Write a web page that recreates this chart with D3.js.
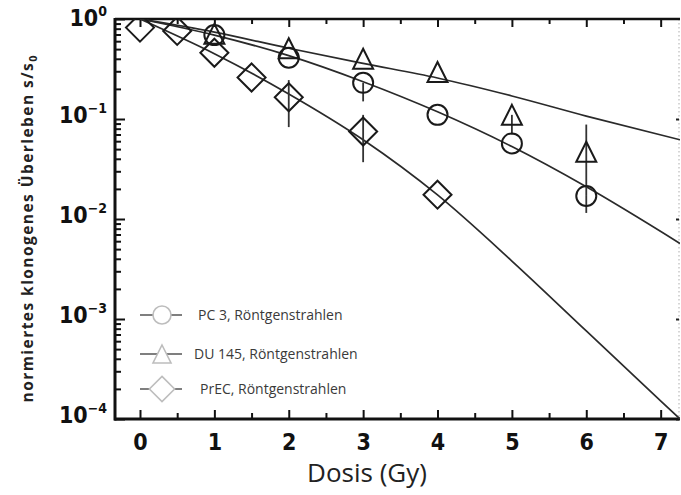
<!DOCTYPE html>
<html>
<head>
<meta charset="utf-8">
<script src="https://cdn.jsdelivr.net/npm/d3@7"></script>
<style>
  body { margin: 0; background: #fff; }
  svg { display: block; }
</style>
</head>
<body>
<svg id="chart"></svg>
<script>
var width = 681, height = 495;

// measured points (dose in Gy, normalised surviving fraction)
var pc3Dose = [1, 2, 3, 4, 5, 6];
var pc3Surv = [0.69, 0.41, 0.23, 0.11, 0.057, 0.017];
var pc3Err = [[3, 0.15, 0.23], [6, 0.0115, 0.017]];   // dose, low, high

var du145Dose = [1, 2, 3, 4, 5, 6];
var du145Surv = [0.71, 0.51, 0.40, 0.295, 0.11, 0.047];
var du145Err = [[5, 0.07, 0.11], [6, 0.017, 0.088]];

var precDose = [0, 0.5, 1, 1.5, 2, 3, 4];
var precSurv = [0.82, 0.76, 0.46, 0.26, 0.165, 0.075, 0.0175];
var precErr = [[2, 0.083, 0.245], [3, 0.037, 0.11]];

// fitted curves
var fitDose = [0, 1, 2, 3, 4, 5, 6, 7.26];
var pc3Fit = [1, 0.69, 0.43, 0.236, 0.118, 0.053, 0.021, 0.0057];
var du145Fit = [1, 0.74, 0.51, 0.36, 0.257, 0.17, 0.107, 0.062];
var precFit = [1, 0.45, 0.178, 0.062, 0.0174, 0.0038, 0.00076, 0.0001];

var xTicks = [0, 1, 2, 3, 4, 5, 6, 7];
var xMinor = [0.5, 1.5, 2.5, 3.5, 4.5, 5.5, 6.5];
var yTicks = [1e-4, 1e-3, 1e-2, 1e-1, 1];
var yExp = ["\u22124", "\u22123", "\u22122", "\u22121", "0"];

var legendNames = ["PC 3, Röntgenstrahlen", "DU 145, Röntgenstrahlen", "PrEC, Röntgenstrahlen"];
var legendShapes = ["circle", "triangle", "diamond"];

var svg = d3.select("#chart").attr("width", width).attr("height", height);

var x = d3.scaleLinear().domain([-0.336, 7.26]).range([115, 680]);
var y = d3.scaleLog().domain([1e-4, 1]).range([419, 19]);

var tickFont = "'Liberation Sans Narrow', 'DejaVu Sans Condensed', sans-serif";

svg.append("defs").append("clipPath").attr("id", "plotClip")
    .append("rect")
    .attr("x", x.range()[0]).attr("y", y.range()[1])
    .attr("width", x.range()[1] - x.range()[0])
    .attr("height", y.range()[0] - y.range()[1]);

// minor y ticks 2..9 per decade
var yMinor = [];
yTicks.slice(0, 4).forEach(function (d) {
    for (var k = 2; k <= 9; k++) yMinor.push(d * k);
});

// right side: faint dotted frame with small ticks
svg.append("line")
    .attr("x1", 679).attr("x2", 679)
    .attr("y1", y.range()[1]).attr("y2", y.range()[0])
    .attr("stroke", "#bbb").attr("stroke-width", 1.2)
    .attr("stroke-dasharray", "1.5,2.5");
svg.append("g")
    .attr("transform", "translate(679,0)")
    .call(d3.axisRight(y).tickValues(yTicks.slice(0, 4)).tickSize(-3).tickFormat(""))
    .call(function (g) { g.select(".domain").remove(); g.selectAll("text").remove(); })
    .selectAll("line").attr("stroke", "#222").attr("stroke-width", 2);

// bottom axis
var bottomAxis = svg.append("g").attr("transform", "translate(0," + y.range()[0] + ")");
bottomAxis.call(d3.axisBottom(x).tickValues(xTicks).tickSize(-9).tickSizeOuter(0).tickPadding(18)
    .tickFormat(d3.format("d")));
bottomAxis.selectAll(".tick text")
    .attr("font-family", tickFont).attr("font-weight", "bold")
    .attr("font-size", 23).attr("fill", "#111")
    .attr("dy", "0.55em");
bottomAxis.append("g")
    .call(d3.axisBottom(x).tickValues(xMinor).tickSize(-6).tickFormat(""))
    .call(function (g) { g.select(".domain").remove(); g.selectAll("text").remove(); });
bottomAxis.selectAll("line").attr("stroke", "#111").attr("stroke-width", 2);
bottomAxis.select(".domain").attr("stroke", "#111").attr("stroke-width", 3)
    .attr("d", "M" + (x.range()[0] - 1) + ",0H" + x.range()[1]);

// top axis
var topAxis = svg.append("g").attr("transform", "translate(0," + y.range()[1] + ")");
topAxis.call(d3.axisTop(x).tickValues(xTicks).tickSize(-8).tickSizeOuter(0).tickFormat(""));
topAxis.append("g")
    .call(d3.axisTop(x).tickValues(xMinor).tickSize(-5).tickFormat(""))
    .call(function (g) { g.select(".domain").remove(); });
topAxis.selectAll("text").remove();
topAxis.selectAll("line").attr("stroke", "#111").attr("stroke-width", 2);
topAxis.select(".domain").attr("stroke", "#111").attr("stroke-width", 2.5)
    .attr("d", "M" + x.range()[0] + ",0H" + x.range()[1]);

// left axis
var leftAxis = svg.append("g").attr("transform", "translate(" + x.range()[0] + ",0)");
leftAxis.call(d3.axisLeft(y).tickValues(yTicks).tickSize(-10).tickSizeOuter(0).tickPadding(18));
leftAxis.selectAll(".tick text")
    .attr("font-family", tickFont).attr("font-weight", "bold")
    .attr("fill", "#111").attr("x", -8)
    .attr("dy", function (d) { return d === 1 ? "0.68em" : "0.36em"; })
    .text(null)
    .each(function (d) {
        var i = yTicks.indexOf(d);
        var t = d3.select(this);
        t.append("tspan").attr("font-size", 23).text("10");
        t.append("tspan").attr("font-size", 14).attr("dy", -10).text(yExp[i]);
    });
leftAxis.append("g")
    .call(d3.axisLeft(y).tickValues(yMinor).tickSize(-6).tickFormat(""))
    .call(function (g) { g.select(".domain").remove(); g.selectAll("text").remove(); });
leftAxis.selectAll("line").attr("stroke", "#111").attr("stroke-width", 2);
leftAxis.select(".domain").attr("stroke", "#111").attr("stroke-width", 3)
    .attr("d", "M0," + (y.range()[1] - 1) + "V" + (y.range()[0] + 1.5));

// axis titles
svg.append("text")
    .attr("x", 367).attr("y", 482)
    .attr("text-anchor", "middle")
    .attr("font-family", "'Open Sans', sans-serif")
    .attr("font-size", 26).attr("fill", "#222")
    .text("Dosis (Gy)");

var yTitle = svg.append("text")
    .attr("transform", "translate(33,229) rotate(-90)")
    .attr("text-anchor", "middle")
    .attr("font-family", "'Open Sans', sans-serif")
    .attr("font-weight", 700)
    .attr("font-size", 15.5).attr("fill", "#222")
    .attr("textLength", 347).attr("lengthAdjust", "spacing");
yTitle.append("tspan").text("normiertes klonogenes Überleben s/s");
yTitle.append("tspan").attr("font-size", 11).attr("dy", 4).text("0");

// marker shapes
function shapePath(type, cx, cy, s) {
    if (type === "circle") {
        var r = 10 * s;
        return "M" + (cx - r) + "," + cy + "a" + r + "," + r + " 0 1,0 " + (2 * r) + ",0" +
            "a" + r + "," + r + " 0 1,0 " + (-2 * r) + ",0Z";
    }
    if (type === "triangle") {
        var h = 10 * s;
        return "M" + cx + "," + (cy - h) + "L" + (cx + h) + "," + (cy + h) + "L" + (cx - h) + "," + (cy + h) + "Z";
    }
    var d = 14 * s;
    return "M" + cx + "," + (cy - d) + "L" + (cx + d) + "," + cy + "L" + cx + "," + (cy + d) + "L" + (cx - d) + "," + cy + "Z";
}

var plot = svg.append("g").attr("clip-path", "url(#plotClip)");

var line = d3.line()
    .x(function (d) { return x(d[0]); })
    .y(function (d) { return y(d[1]); })
    .curve(d3.curveMonotoneX);

[du145Fit, pc3Fit, precFit].forEach(function (fit) {
    plot.append("path")
        .datum(d3.zip(fitDose, fit))
        .attr("d", line)
        .attr("fill", "none")
        .attr("stroke", "#2a2a2a")
        .attr("stroke-width", 1.7);
});

var series = [
    { dose: pc3Dose, surv: pc3Surv, err: pc3Err, shape: "circle" },
    { dose: du145Dose, surv: du145Surv, err: du145Err, shape: "triangle" },
    { dose: precDose, surv: precSurv, err: precErr, shape: "diamond" }
];

series.forEach(function (s) {
    plot.append("g").selectAll("line")
        .data(s.err)
        .join("line")
        .attr("x1", function (d) { return x(d[0]); })
        .attr("x2", function (d) { return x(d[0]); })
        .attr("y1", function (d) { return y(d[1]); })
        .attr("y2", function (d) { return y(d[2]); })
        .attr("stroke", "#333")
        .attr("stroke-width", 1.8);
});

series.forEach(function (s) {
    plot.append("g").selectAll("path")
        .data(d3.zip(s.dose, s.surv))
        .join("path")
        .attr("d", function (d) { return shapePath(s.shape, x(d[0]), y(d[1]), 1); })
        .attr("fill", "none")
        .attr("stroke", "#1a1a1a")
        .attr("stroke-width", 2);
});

// legend
var legendY = [315, 354, 389];
var legendTextX = [198, 194, 200];
var legend = svg.append("g");
legendNames.forEach(function (name, i) {
    var ly = legendY[i];
    legend.append("line")
        .attr("x1", 140).attr("x2", 182)
        .attr("y1", ly).attr("y2", ly)
        .attr("stroke", "#555").attr("stroke-width", 1.6);
    legend.append("path")
        .attr("d", shapePath(legendShapes[i], 162, ly, 0.9))
        .attr("fill", "#fff")
        .attr("stroke", "#bdbdbd")
        .attr("stroke-width", 1.6);
    legend.append("text")
        .attr("x", legendTextX[i]).attr("y", ly + 5)
        .attr("font-family", "'Open Sans', sans-serif")
        .attr("font-size", 14).attr("fill", "#3a3a3a")
        .text(name);
});
</script>
</body>
</html>
